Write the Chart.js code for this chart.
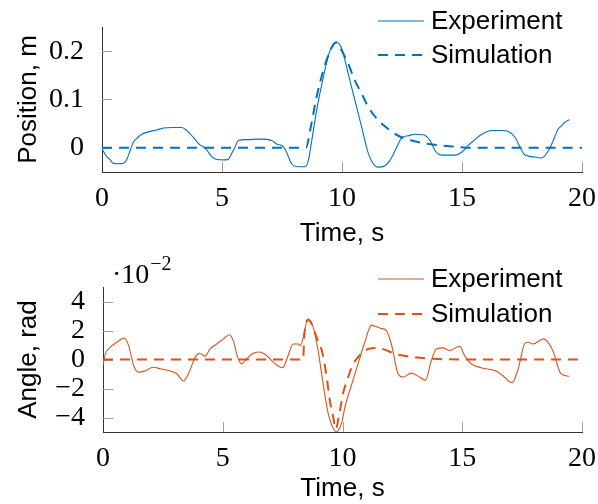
<!DOCTYPE html>
<html>
<head>
<meta charset="utf-8">
<script src="https://cdn.jsdelivr.net/npm/chart.js@4.4.1/dist/chart.umd.min.js"></script>
<style>
  html, body { margin: 0; padding: 0; background: #fff; }
  .wrap { position: relative; width: 598px; height: 252px; }
</style>
</head>
<body>
<div class="wrap"><canvas id="posChart"></canvas></div>
<div class="wrap"><canvas id="angleChart"></canvas></div>
<script>
// Position, experiment (s, m)
const posExpTime = [0, 0.19, 0.33, 0.47, 0.68, 0.89, 1.03, 1.17, 1.31, 1.44, 1.65, 2.0, 2.28, 2.56, 2.9, 3.32, 3.53, 3.8, 4.08, 4.29,
  4.57, 4.78, 5.06, 5.26, 5.4, 5.54, 5.68, 6.03, 6.58, 7.07, 7.28, 7.56, 7.69, 7.9, 8.18, 8.46, 8.6, 8.74, 8.94, 9.22,
  9.5, 9.75, 9.99, 10.26, 10.54, 10.82, 11.1, 11.3, 11.51, 11.79, 12.0, 12.28, 12.49, 12.76, 13.04, 13.38, 13.67, 13.88, 14.15, 14.71,
  14.99, 15.26, 15.54, 15.82, 16.24, 16.65, 16.93, 17.21, 17.42, 17.63, 18.04, 18.32, 18.6, 18.8, 19.01, 19.15, 19.29, 19.47];
const posExp = [-0.002, -0.018, -0.024, -0.032, -0.033, -0.032, -0.024, -0.006, 0.012, 0.019, 0.028, 0.034, 0.037, 0.041, 0.042, 0.042, 0.036, 0.022, 0.006, 0.0,
  -0.018, -0.024, -0.025, -0.024, -0.012, 0.001, 0.015, 0.017, 0.018, 0.015, 0.008, 0.002, -0.009, -0.033, -0.039, -0.039, -0.026, 0.015, 0.077, 0.146,
  0.201, 0.219, 0.205, 0.153, 0.098, 0.043, -0.012, -0.033, -0.040, -0.037, -0.026, 0.001, 0.021, 0.025, 0.028, 0.027, 0.015, -0.006, -0.015, -0.015,
  -0.009, 0.005, 0.017, 0.028, 0.036, 0.036, 0.034, 0.022, 0.001, -0.015, -0.019, -0.021, -0.006, 0.015, 0.039, 0.046, 0.053, 0.058];

// Position, simulation
const posSimTime = [0, 8.5, 8.67, 8.94, 9.22, 9.5, 9.75, 9.99, 10.26, 10.54, 10.82, 11.1, 11.51, 11.93, 12.35, 12.9, 13.6, 14.57, 15.54, 20];
const posSim = [0, 0, 0.036, 0.105, 0.16, 0.2, 0.218, 0.201, 0.174, 0.139, 0.112, 0.084, 0.057, 0.039, 0.025, 0.015, 0.008, 0.003, 0, 0];

// Angle, experiment (s, 1e-2 rad)
const angExpTime = [0, 0.1, 0.3, 0.58, 0.89, 1.07, 1.28, 1.48, 1.7, 2.11, 2.39, 2.8, 3.08, 3.36, 3.57, 3.85, 4.05, 4.26, 4.47, 4.75,
  5.03, 5.28, 5.44, 5.62, 5.79, 6.0, 6.28, 6.55, 6.83, 7.11, 7.5, 7.73, 7.94, 8.15, 8.24, 8.57, 8.78, 8.98, 9.19, 9.4,
  9.61, 9.75, 9.96, 10.1, 10.35, 10.65, 10.93, 11.21, 11.55, 11.83, 12.04, 12.32, 12.53, 12.87, 13.22, 13.46, 13.71, 13.92, 14.2, 14.47,
  14.89, 15.1, 15.38, 15.79, 16.42, 16.69, 17.08, 17.32, 17.6, 17.74, 17.95, 18.4, 18.78, 19.12, 19.47];
const angExp = [-0.4, 0.39, 0.84, 1.19, 1.48, 0.96, -0.41, -0.87, -0.82, -0.53, -0.64, -0.8, -0.98, -1.48, -0.98, 0.16, 0.43, 0.23, 0.73, 1.07,
  1.42, 1.71, 1.3, 0.16, -0.3, 0.05, 0.43, 0.52, 0.27, -0.18, -0.57, 0.27, 1.07, 1.07, 0.96, 2.79, 2.21, 0.62, -1.66, -3.72,
  -4.75, -4.98, -4.41, -3.3, -1.9, -0.3, 1.19, 2.37, 2.17, 1.99, 1.07, -0.98, -1.21, -0.94, -1.21, -1.44, -0.07, 0.73, 0.8, 0.62,
  0.91, 0.27, -0.3, -0.57, -0.8, -1.1, -1.6, -0.75, 1.07, 1.19, 1.07, 1.42, 0.62, -0.98, -1.16];

// Angle, simulation
const angSimTime = [0, 8.36, 8.4, 8.57, 8.92, 9.17, 9.34, 9.47, 9.61, 9.72, 9.85, 10.03, 10.24, 10.45, 10.65, 10.93, 11.35, 11.76, 12.18, 13.0, 13.8, 15, 20];
const angSim = [0, 0, 1.5, 2.75, 1.53, 0.39, -1.21, -2.81, -3.95, -4.8, -3.9, -2.3, -1.2, -0.3, 0.16, 0.62, 0.8, 0.68, 0.39, 0.16, 0.05, 0, 0];

// Axis ticks
const timeTicks = [0, 5, 10, 15, 20];
const posTicks = [0, 0.1, 0.2];
const posTickLabels = ['0', '0.1', '0.2'];
const angTicks = [-4, -2, 0, 2, 4];
const angTickLabels = ['\u22124', '\u22122', '0', '2', '4'];
const seriesNames = ['Experiment', 'Simulation'];

const BLUE = '#0072BD';
const ORANGE = '#D95319';
const SANS = '"Liberation Sans", Arial, sans-serif';
const SERIF = '"Liberation Serif", "Times New Roman", serif';

function toPoints(xs, ys) {
    return xs.map((x, i) => ({ x: x, y: ys[i] }));
}

// gray tick marks drawn inward from the axes
const innerTicks = {
    id: 'innerTicks',
    beforeDatasetsDraw(chart) {
        const { ctx, chartArea, scales } = chart;
        ctx.save();
        ctx.strokeStyle = '#a0a0a0';
        ctx.lineWidth = 1;
        scales.x.ticks.forEach(t => {
            const px = Math.round(scales.x.getPixelForValue(t.value)) + 0.5;
            if (px < chartArea.left + 2) return;
            ctx.beginPath();
            ctx.moveTo(px, chartArea.bottom);
            ctx.lineTo(px, chartArea.bottom - 10);
            ctx.stroke();
        });
        scales.y.ticks.forEach(t => {
            const py = Math.round(scales.y.getPixelForValue(t.value)) + 0.5;
            ctx.beginPath();
            ctx.moveTo(chartArea.left, py);
            ctx.lineTo(chartArea.left + 10, py);
            ctx.stroke();
        });
        ctx.restore();
    }
};

// legend in the upper right corner, plus optional axis multiplier
const cornerLegend = {
    id: 'cornerLegend',
    afterDraw(chart, args, opts) {
        const ctx = chart.ctx;
        ctx.save();
        chart.data.datasets.forEach((ds, i) => {
            const y = opts.rows[i];
            ctx.strokeStyle = ds.borderColor;
            ctx.lineWidth = ds.borderWidth;
            ctx.setLineDash(ds.borderDash || []);
            ctx.beginPath();
            ctx.moveTo(378, y);
            ctx.lineTo(424, y);
            ctx.stroke();
            ctx.setLineDash([]);
            ctx.fillStyle = '#000';
            ctx.font = '26px ' + SANS;
            ctx.textBaseline = 'middle';
            ctx.textAlign = 'left';
            ctx.fillText(ds.label, 431, y + 1);
        });
        if (opts.multiplier) {
            ctx.fillStyle = '#000';
            ctx.textBaseline = 'alphabetic';
            ctx.font = '28px ' + SERIF;
            ctx.fillText('\u00b710', 112, 31);
            const w = ctx.measureText('\u00b710').width;
            ctx.font = '20px ' + SERIF;
            ctx.fillText('\u22122', 112 + w + 1, 18);
        }
        ctx.restore();
    }
};

function makeChart(id, cfg) {
    const ctx = document.getElementById(id).getContext('2d');
    return new Chart(ctx, {
        type: 'line',
        data: {
            datasets: [{
                label: seriesNames[0],
                data: cfg.exp,
                borderColor: cfg.color,
                borderWidth: 1.1,
                pointRadius: 0,
                cubicInterpolationMode: 'monotone',
                fill: false
            }, {
                label: seriesNames[1],
                data: cfg.sim,
                borderColor: cfg.color,
                borderWidth: 2,
                borderDash: [10, 7],
                pointRadius: 0,
                cubicInterpolationMode: 'monotone',
                fill: false
            }]
        },
        options: {
            responsive: true,
            maintainAspectRatio: false,
            animation: false,
            devicePixelRatio: 1,
            layout: { padding: { top: cfg.top, right: 16, left: 0, bottom: 0 } },
            plugins: {
                legend: { display: false },
                tooltip: { enabled: false },
                cornerLegend: { rows: cfg.legendRows, multiplier: cfg.multiplier }
            },
            scales: {
                x: {
                    type: 'linear',
                    min: 0,
                    max: 20,
                    afterBuildTicks: s => { s.ticks = timeTicks.map(v => ({ value: v })); },
                    afterFit: s => { s.height = cfg.xHeight; },
                    grid: { display: false },
                    border: { display: true, color: '#333', width: 1 },
                    ticks: { color: '#000', padding: 2, autoSkip: false, maxRotation: 0, font: { family: SERIF, size: 28 } },
                    title: {
                        display: true, text: 'Time, s', color: '#000',
                        font: { family: SANS, size: 26, lineHeight: 1.2 },
                        padding: { top: 0, bottom: cfg.xTitlePad }
                    }
                },
                y: {
                    type: 'linear',
                    min: cfg.yMin,
                    max: cfg.yMax,
                    afterBuildTicks: s => { s.ticks = cfg.yTicks.map(v => ({ value: v })); },
                    afterFit: s => { s.width = cfg.yWidth; },
                    grid: { display: false },
                    border: { display: true, color: '#333', width: 1 },
                    ticks: {
                        color: '#000', padding: 10, autoSkip: false, font: { family: SERIF, size: 28 },
                        callback: (v, i) => cfg.yLabels[i]
                    },
                    title: {
                        display: true, text: cfg.yTitle, color: '#000',
                        font: { family: SANS, size: 26, lineHeight: 1.2 },
                        padding: { top: 13, bottom: 0 }
                    }
                }
            }
        },
        plugins: [innerTicks, cornerLegend]
    });
}

makeChart('posChart', {
    exp: toPoints(posExpTime, posExp),
    sim: toPoints(posSimTime, posSim),
    color: BLUE,
    top: 27,
    xHeight: 80,
    xTitlePad: 3,
    yMin: -0.05,
    yMax: 0.25,
    yTicks: posTicks,
    yLabels: posTickLabels,
    yWidth: 102,
    yTitle: 'Position, m',
    legendRows: [21, 55],
    multiplier: false
});

makeChart('angleChart', {
    exp: toPoints(angExpTime, angExp),
    sim: toPoints(angSimTime, angSim),
    color: ORANGE,
    top: 35,
    xHeight: 72,
    xTitlePad: 0,
    yMin: -5,
    yMax: 5,
    yTicks: angTicks,
    yLabels: angTickLabels,
    yWidth: 103,
    yTitle: 'Angle, rad',
    legendRows: [27, 62],
    multiplier: true
});
</script>
</body>
</html>
